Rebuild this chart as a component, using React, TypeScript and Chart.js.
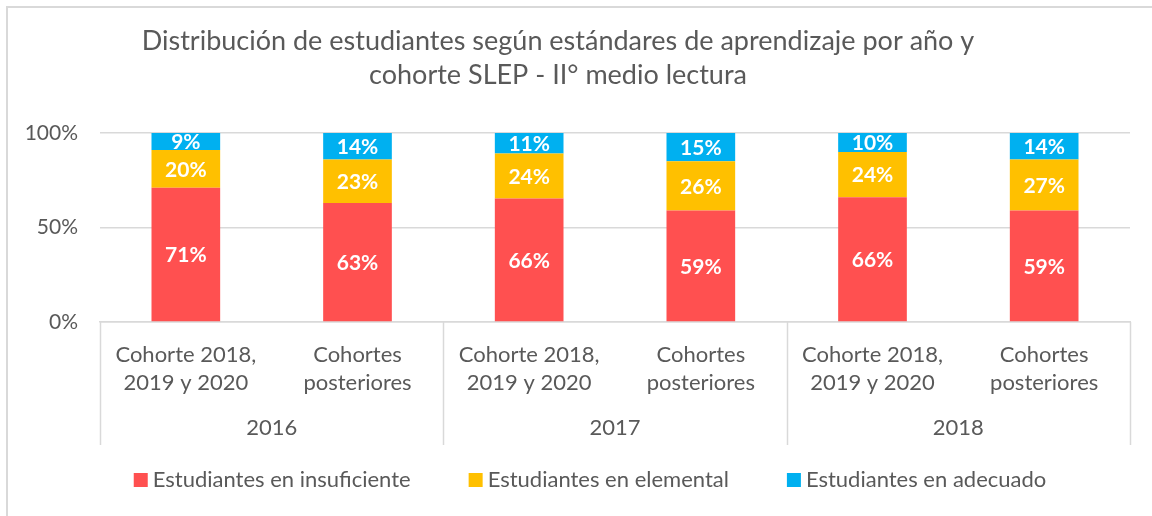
import React, { useEffect, useRef } from "react";
import { Chart, registerables } from "chart.js";

Chart.register(...registerables);

const categories: string[][] = [
  ["Cohorte 2018,", "2019 y 2020"],
  ["Cohortes", "posteriores"],
  ["Cohorte 2018,", "2019 y 2020"],
  ["Cohortes", "posteriores"],
  ["Cohorte 2018,", "2019 y 2020"],
  ["Cohortes", "posteriores"],
];
const years = ["2016", "2017", "2018"];
const insuficiente = [71, 63, 66, 59, 66, 59];
const elemental = [20, 23, 24, 26, 24, 27];
const adecuado = [9, 14, 11, 15, 10, 14];
const seriesNames = [
  "Estudiantes en insuficiente",
  "Estudiantes en elemental",
  "Estudiantes en adecuado",
];
const seriesColors = ["#FF5050", "#FFC000", "#00B0F0"];
const yTicks = [0, 50, 100];
const titleLines = [
  "Distribución de estudiantes según estándares de aprendizaje por año y",
  "cohorte SLEP - II° medio lectura",
];

const FONT = "Lato, 'Open Sans', sans-serif";
const TEXT = "#595959";
const GRID = "#D9D9D9";

const totals = insuficiente.map((v, i) => v + elemental[i] + adecuado[i]);
const share = (arr: number[]) => arr.map((v, i) => (v / totals[i]) * 100);
const raw = [insuficiente, elemental, adecuado];

const decorPlugin = {
  id: "decor",
  afterDraw(chart: any) {
    const ctx = chart.ctx;
    const area = chart.chartArea;
    const xs = chart.scales.x;
    ctx.save();
    // outer border
    ctx.strokeStyle = GRID;
    ctx.lineWidth = 2;
    ctx.beginPath();
    ctx.moveTo(7, 516);
    ctx.lineTo(7, 7);
    ctx.lineTo(1152, 7);
    ctx.stroke();

    // title
    ctx.fillStyle = TEXT;
    ctx.font = `27px ${FONT}`;
    ctx.textAlign = "center";
    ctx.textBaseline = "middle";
    ctx.fillText(titleLines[0], 558, 41);
    ctx.fillText(titleLines[1], 558, 75);

    // data labels
    ctx.font = `bold 21px ${FONT}`;
    ctx.fillStyle = "#FFFFFF";
    chart.data.datasets.forEach((ds: any, di: number) => {
      const meta = chart.getDatasetMeta(di);
      meta.data.forEach((el: any, i: number) => {
        const cy = (el.y + el.base) / 2;
        ctx.fillText(`${raw[di][i]}%`, el.x, cy + 1);
      });
    });

    // multi-level category separators
    const bottom = 445;
    ctx.strokeStyle = GRID;
    ctx.lineWidth = 1.5;
    const bounds: number[] = [area.left];
    for (let g = 1; g < years.length; g++) {
      const i = g * 2;
      bounds.push((xs.getPixelForValue(i - 1) + xs.getPixelForValue(i)) / 2);
    }
    bounds.push(area.right);
    bounds.forEach((bx) => {
      ctx.beginPath();
      ctx.moveTo(Math.round(bx) + 0.5, area.bottom);
      ctx.lineTo(Math.round(bx) + 0.5, bottom);
      ctx.stroke();
    });

    // year labels
    ctx.fillStyle = TEXT;
    ctx.font = `22px ${FONT}`;
    years.forEach((y, g) => {
      const cx = (xs.getPixelForValue(g * 2) + xs.getPixelForValue(g * 2 + 1)) / 2;
      ctx.fillText(y, cx, 428);
    });

    // legend
    ctx.font = `22px ${FONT}`;
    ctx.textAlign = "left";
    const box = 14;
    const gapBoxText = 5;
    const gapItems = 58;
    const widths = seriesNames.map((n) => ctx.measureText(n).width);
    const total =
      widths.reduce((a, b) => a + b, 0) +
      seriesNames.length * (box + gapBoxText) +
      gapItems * (seriesNames.length - 1);
    let lx = 590 - total / 2;
    const ly = 480;
    seriesNames.forEach((n, i) => {
      ctx.fillStyle = seriesColors[i];
      ctx.fillRect(lx, ly - box / 2, box, box);
      ctx.fillStyle = TEXT;
      ctx.fillText(n, lx + box + gapBoxText, ly);
      lx += box + gapBoxText + widths[i] + gapItems;
    });
    ctx.restore();
  },
};

export default function App() {
  const ref = useRef<HTMLCanvasElement | null>(null);
  useEffect(() => {
    document.body.style.margin = "0";
    const canvas = ref.current;
    if (!canvas) return;
    const chart = new Chart(canvas, {
      type: "bar",
      data: {
        labels: categories,
        datasets: [
          { label: seriesNames[0], data: share(insuficiente), backgroundColor: seriesColors[0] },
          { label: seriesNames[1], data: share(elemental), backgroundColor: seriesColors[1] },
          { label: seriesNames[2], data: share(adecuado), backgroundColor: seriesColors[2] },
        ],
      },
      options: {
        responsive: false,
        animation: false,
        devicePixelRatio: 1,
        layout: { padding: { left: 10, right: 22, top: 133, bottom: 71 } },
        plugins: {
          legend: { display: false },
          title: { display: false },
          tooltip: { enabled: false },
        },
        datasets: {
          bar: { categoryPercentage: 1, barPercentage: 0.4, borderWidth: 0 },
        },
        scales: {
          x: {
            stacked: true,
            grid: { display: false, drawTicks: false },
            border: { display: true, color: GRID, width: 1.5 },
            ticks: {
              color: TEXT,
              font: { family: FONT, size: 22, lineHeight: 28 / 22 },
              padding: 19,
              maxRotation: 0,
              autoSkip: false,
            },
            afterFit: (s: any) => {
              s.height = 123;
            },
          },
          y: {
            stacked: true,
            min: 0,
            max: 100,
            afterBuildTicks: (s: any) => {
              s.ticks = yTicks.map((v) => ({ value: v }));
            },
            grid: { color: GRID, lineWidth: 1.5, drawTicks: false },
            border: { display: false },
            ticks: {
              color: TEXT,
              font: { family: FONT, size: 21 },
              padding: 22,
              callback: (v: any) => `${v}%`,
            },
            afterFit: (s: any) => {
              s.width = 90;
            },
          },
        },
      },
      plugins: [decorPlugin],
    });
    return () => chart.destroy();
  }, []);
  return (
    <div style={{ width: 1152, height: 516 }}>
      <canvas ref={ref} width={1152} height={516} style={{ display: "block" }} />
    </div>
  );
}
